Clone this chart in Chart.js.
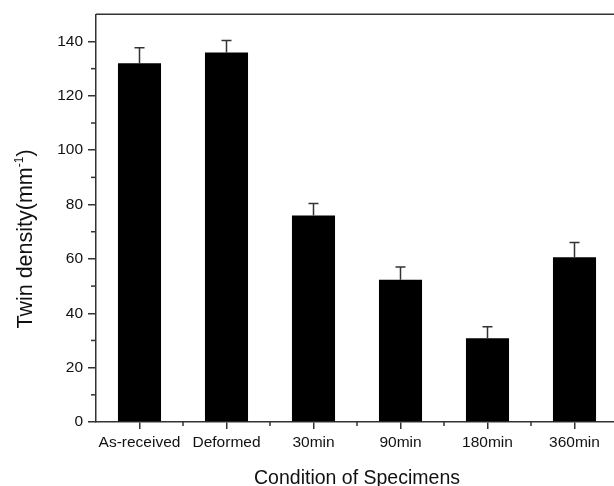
<!DOCTYPE html>
<html>
<head>
<meta charset="utf-8">
<script src="https://cdn.jsdelivr.net/npm/chart.js@4"></script>
<style>
html,body{margin:0;padding:0;overflow:hidden;background:#fff;}
#wrap{position:relative;width:618px;height:486px;}
</style>
</head>
<body>
<div id="wrap"><canvas id="c"></canvas></div>
<script>
const categories = ['As-received', 'Deformed', '30min', '90min', '180min', '360min'];
const values = [132, 135.9, 76, 52.3, 30.8, 60.6];
const errors = [5.7, 4.5, 4.4, 4.7, 4.2, 5.4];
const yTicks = [0, 20, 40, 60, 80, 100, 120, 140];
const yMinorTicks = [10, 30, 50, 70, 90, 110, 130];
const xTitle = 'Condition of Specimens';
const yTitleMain = 'Twin density(mm';
const yTitleSup = '-1';
const yTitleEnd = ')';

const FONT = "'Liberation Sans', Arial, sans-serif";
const AX = '#333';

const decorations = {
  id: 'decorations',
  afterDatasetsDraw(chart) {
    const ctx = chart.ctx;
    const x = chart.scales.x, y = chart.scales.y;
    const meta = chart.getDatasetMeta(0);
    ctx.save();
    ctx.strokeStyle = AX;
    ctx.lineWidth = 1.5;
    // error bars (upper)
    meta.data.forEach((bar, i) => {
      const top = y.getPixelForValue(values[i] + errors[i]);
      ctx.beginPath();
      ctx.moveTo(bar.x, bar.y);
      ctx.lineTo(bar.x, top);
      ctx.moveTo(bar.x - 5, top);
      ctx.lineTo(bar.x + 5, top);
      ctx.stroke();
    });
    const ca = chart.chartArea;
    // top border
    ctx.beginPath();
    ctx.moveTo(ca.left, ca.top);
    ctx.lineTo(ca.right, ca.top);
    ctx.stroke();
    // y minor ticks
    yMinorTicks.forEach(v => {
      const py = y.getPixelForValue(v);
      ctx.beginPath();
      ctx.moveTo(ca.left - 5, py);
      ctx.lineTo(ca.left, py);
      ctx.stroke();
    });
    // x minor ticks between categories
    for (let i = 0; i < categories.length - 1; i++) {
      const px = x.getPixelForValue(i + 0.5);
      ctx.beginPath();
      ctx.moveTo(px, ca.bottom);
      ctx.lineTo(px, ca.bottom + 4);
      ctx.stroke();
    }
    // axis titles
    ctx.fillStyle = '#111';
    ctx.font = '19.5px ' + FONT;
    ctx.textAlign = 'center';
    ctx.textBaseline = 'alphabetic';
    ctx.fillText(xTitle, (ca.left + ca.right) / 2, 484);
    // y title with superscript
    ctx.save();
    ctx.translate(32, 239);
    ctx.rotate(-Math.PI / 2);
    ctx.textAlign = 'left';
    ctx.font = '21.5px ' + FONT;
    const w1 = ctx.measureText(yTitleMain).width;
    const w3 = ctx.measureText(yTitleEnd).width;
    ctx.font = '12px ' + FONT;
    const w2 = ctx.measureText(yTitleSup).width;
    const total = w1 + w2 + w3;
    let sx = -total / 2;
    ctx.font = '21.5px ' + FONT;
    ctx.fillText(yTitleMain, sx, 0);
    sx += w1;
    ctx.font = '12px ' + FONT;
    ctx.fillText(yTitleSup, sx, -9);
    sx += w2;
    ctx.font = '21.5px ' + FONT;
    ctx.fillText(yTitleEnd, sx, 0);
    ctx.restore();
    ctx.restore();
  }
};

new Chart(document.getElementById('c'), {
  type: 'bar',
  data: {
    labels: categories,
    datasets: [{
      data: values,
      backgroundColor: '#000',
      borderWidth: 0,
      barPercentage: 0.495,
      categoryPercentage: 1.0
    }]
  },
  options: {
    responsive: true,
    maintainAspectRatio: false,
    animation: false,
    layout: { padding: { top: 14, left: 0, right: 0, bottom: 0 } },
    plugins: { legend: { display: false }, tooltip: { enabled: false } },
    scales: {
      x: {
        offset: true,
        grid: { offset: false, drawOnChartArea: false, drawTicks: true, tickLength: 7, color: AX, lineWidth: 1.5 },
        border: { display: true, color: AX, width: 1.5 },
        ticks: { color: '#111', font: { family: FONT, size: 15.5 }, padding: 4, maxRotation: 0, autoSkip: false },
        afterFit(s) { s.height = 64; }
      },
      y: {
        min: 0,
        max: 150,
        afterBuildTicks(s) { s.ticks = yTicks.map(v => ({ value: v })); },
        grid: { drawOnChartArea: false, drawTicks: true, tickLength: 8, color: AX, lineWidth: 1.5 },
        border: { display: true, color: AX, width: 1.5 },
        ticks: { color: '#111', font: { family: FONT, size: 15.5 }, padding: 5 },
        afterFit(s) { s.width = 96; }
      }
    }
  },
  plugins: [decorations]
});
</script>
</body>
</html>
